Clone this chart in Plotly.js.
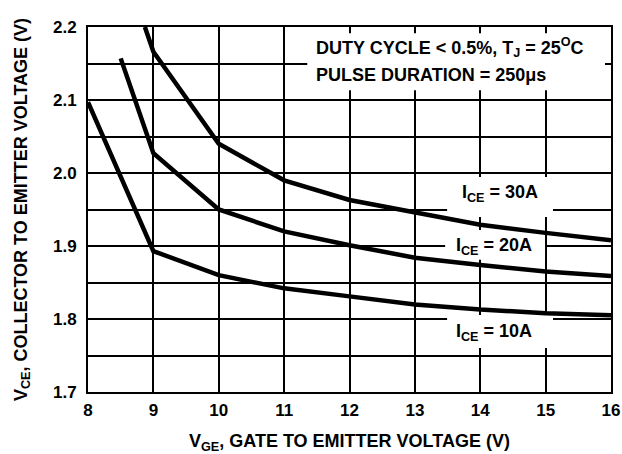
<!DOCTYPE html>
<html>
<head>
<meta charset="utf-8">
<script src="https://cdn.plot.ly/plotly-3.0.1.min.js"></script>
<style>html,body{margin:0;padding:0;background:#fff;}#chart{width:622px;height:454px;}</style>
</head>
<body>
<div id="chart"></div>
<script>
// Data
const vge10 = [8, 9, 10, 11, 12, 13, 14, 15, 16];
const vce10 = [2.097, 1.893, 1.860, 1.842, 1.831, 1.820, 1.813, 1.808, 1.805];
const vge20 = [8.5, 9, 10, 11, 12, 13, 14, 15, 16];
const vce20 = [2.157, 2.027, 1.950, 1.920, 1.901, 1.884, 1.874, 1.865, 1.859];
const vge30 = [8.87, 9, 10, 11, 12, 13, 14, 15, 16];
const vce30 = [2.200, 2.166, 2.040, 1.990, 1.963, 1.946, 1.929, 1.918, 1.908];
const seriesNames = ['I<sub>CE</sub> = 10A', 'I<sub>CE</sub> = 20A', 'I<sub>CE</sub> = 30A'];
const xTickVals = [8, 9, 10, 11, 12, 13, 14, 15, 16];
const xTickText = ['8', '9', '10', '11', '12', '13', '14', '15', '16'];
const yTickVals = [1.7, 1.75, 1.8, 1.85, 1.9, 1.95, 2.0, 2.05, 2.1, 2.15, 2.2];
const yTickText = ['1.7', '', '1.8', '', '1.9', '', '2.0', '', '2.1', '', '2.2'];
const noteLines = ['DUTY CYCLE &lt; 0.5%, T<sub>J</sub> = 25<sup>O</sup>C', 'PULSE DURATION = 250\u03BCs'];

const FONT = 'Liberation Sans, Arial, Helvetica, sans-serif';
const lineStyle = {color: '#000', width: 4.5};

const traces = [
  {x: vge10, y: vce10, name: seriesNames[0], mode: 'lines', line: lineStyle, hoverinfo: 'skip'},
  {x: vge20, y: vce20, name: seriesNames[1], mode: 'lines', line: lineStyle, hoverinfo: 'skip'},
  {x: vge30, y: vce30, name: seriesNames[2], mode: 'lines', line: lineStyle, hoverinfo: 'skip'}
];

const whiteBox = (x0, x1, y0, y1) => ({
  type: 'rect', xref: 'x', yref: 'y', x0: x0, x1: x1, y0: y0, y1: y1,
  fillcolor: '#fff', line: {width: 0}, layer: 'between'
});

const labelFont = {family: FONT, size: 18, color: '#000', weight: 'bold'};
const tickFont = {family: FONT, size: 17, color: '#000', weight: 'bold'};
const titleFont = {family: FONT, size: 18, color: '#000', weight: 'bold'};

const layout = {
  width: 622, height: 454,
  margin: {l: 88, r: 11, t: 27, b: 62, pad: 0},
  paper_bgcolor: '#fff', plot_bgcolor: '#fff',
  showlegend: false,
  font: {family: FONT, size: 17, color: '#000', weight: 'bold'},
  xaxis: {
    range: [8, 16], tickvals: xTickVals, ticktext: xTickText,
    showgrid: true, gridcolor: '#000', gridwidth: 2,
    showline: true, linecolor: '#000', linewidth: 2, mirror: true,
    zeroline: false, ticks: '', ticklabelstandoff: 2,
    tickfont: tickFont,
    title: {text: 'V<sub>GE</sub>, GATE TO EMITTER VOLTAGE (V)', standoff: 22, font: titleFont},
    automargin: false
  },
  yaxis: {
    range: [1.7, 2.2], tickvals: yTickVals, ticktext: yTickText,
    showgrid: true, gridcolor: '#000', gridwidth: 2,
    showline: true, linecolor: '#000', linewidth: 2, mirror: true,
    zeroline: false, ticks: '', ticklabelstandoff: 6,
    tickfont: tickFont,
    title: {text: 'V<sub>CE</sub>, COLLECTOR TO EMITTER VOLTAGE (V)', standoff: 21, font: titleFont},
    automargin: false
  },
  shapes: [
    whiteBox(11.354, 15.908, 2.1134, 2.1914),
    whiteBox(13.493, 15.113, 1.9397, 1.9944),
    whiteBox(13.463, 14.991, 1.881, 1.922),
    whiteBox(13.493, 15.113, 1.7603, 1.8055)
  ],
  annotations: [
    {xref: 'x', yref: 'y', x: 11.45, y: 2.172, xanchor: 'left', yanchor: 'middle', text: noteLines[0], showarrow: false, font: labelFont},
    {xref: 'x', yref: 'y', x: 11.45, y: 2.134, xanchor: 'left', yanchor: 'middle', text: noteLines[1], showarrow: false, font: labelFont},
    {xref: 'x', yref: 'y', x: 14.296, y: 1.972, xanchor: 'center', yanchor: 'middle', text: seriesNames[2], showarrow: false, font: labelFont},
    {xref: 'x', yref: 'y', x: 14.204, y: 1.900, xanchor: 'center', yanchor: 'middle', text: seriesNames[1], showarrow: false, font: labelFont},
    {xref: 'x', yref: 'y', x: 14.204, y: 1.782, xanchor: 'center', yanchor: 'middle', text: seriesNames[0], showarrow: false, font: labelFont}
  ]
};

Plotly.newPlot('chart', traces, layout, {staticPlot: true, displayModeBar: false});
</script>
</body>
</html>
